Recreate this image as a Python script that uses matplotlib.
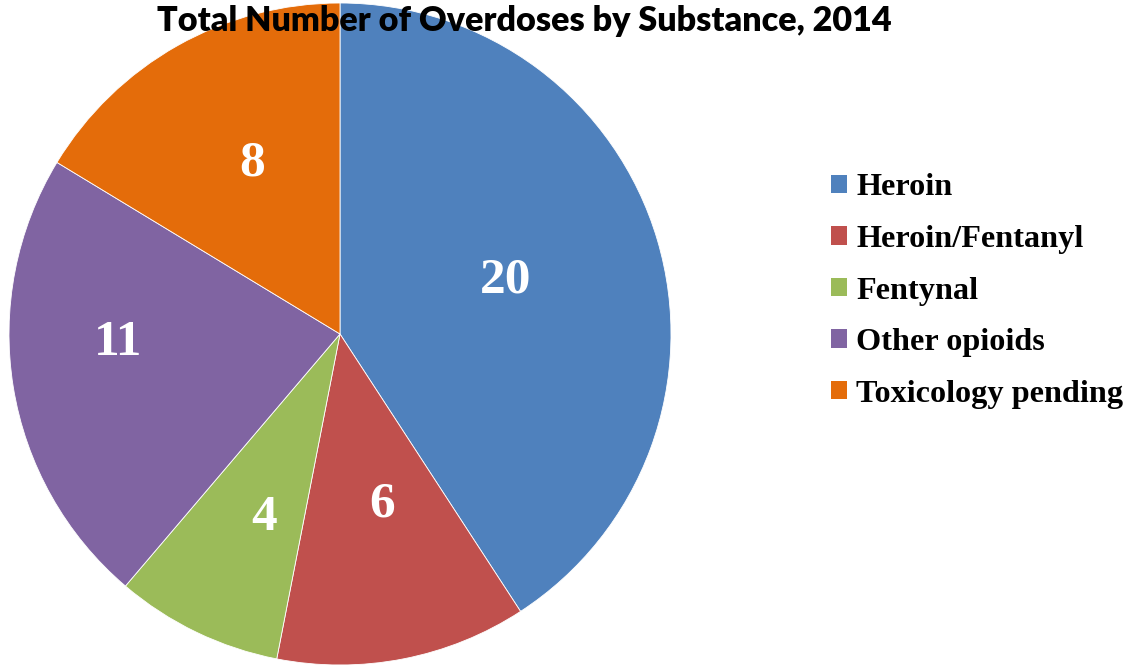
import numpy as np
import matplotlib.pyplot as plt
from matplotlib.patches import Patch

# overdose counts by substance
substances = ["Heroin", "Heroin/Fentanyl", "Fentynal", "Other opioids",
              "Toxicology pending"]
counts = [20, 6, 4, 11, 8]
colors = ["#4F81BD", "#C0504D", "#9BBB59", "#8064A2", "#E46C0A"]

# where each count label sits inside its wedge
label_radius = [0.53, 0.52, 0.59, 0.67, 0.59]
label_shift = [2.5, 3.0, 3.0, -8.0, -2.7]   # degrees from wedge middle

fig = plt.figure(figsize=(11.28, 6.66), dpi=100)

R = 331
cx, cy = 340, 334
ax = fig.add_axes([(cx - R) / 1128, (666 - cy - R) / 666,
                   2 * R / 1128, 2 * R / 666])
wedges, _ = ax.pie(counts, colors=colors, startangle=90, counterclock=False,
                   radius=1.0, wedgeprops=dict(edgecolor="white",
                                                linewidth=0.6))
ax.set_xlim(-1, 1)
ax.set_ylim(-1, 1)
ax.set_aspect("equal")
ax.axis("off")

for w, n, r, d in zip(wedges, counts, label_radius, label_shift):
    mid = np.deg2rad((w.theta1 + w.theta2) / 2 + d)
    ax.text(r * np.cos(mid), r * np.sin(mid) - 0.012, str(n), color="white",
            ha="center", va="center", fontsize=37, fontweight="bold",
            family="Liberation Serif")

handles = [Patch(facecolor=c, edgecolor="none") for c in colors]
fig.legend(handles, substances, loc="center left",
           bbox_to_anchor=(802 / 1128, 1 - 291 / 666),
           frameon=False, handlelength=0.5, handleheight=0.5,
           handletextpad=0.28, labelspacing=0.70,
           prop=dict(family="Liberation Serif", weight="bold", size=23.2))

fig.text(524 / 1128, 1 - 21 / 666, "Total Number of Overdoses by Substance, 2014",
         ha="center", va="center", fontsize=24.6, fontweight="heavy",
         family="Lato", zorder=10)

fig.savefig("out.png", dpi=100)
